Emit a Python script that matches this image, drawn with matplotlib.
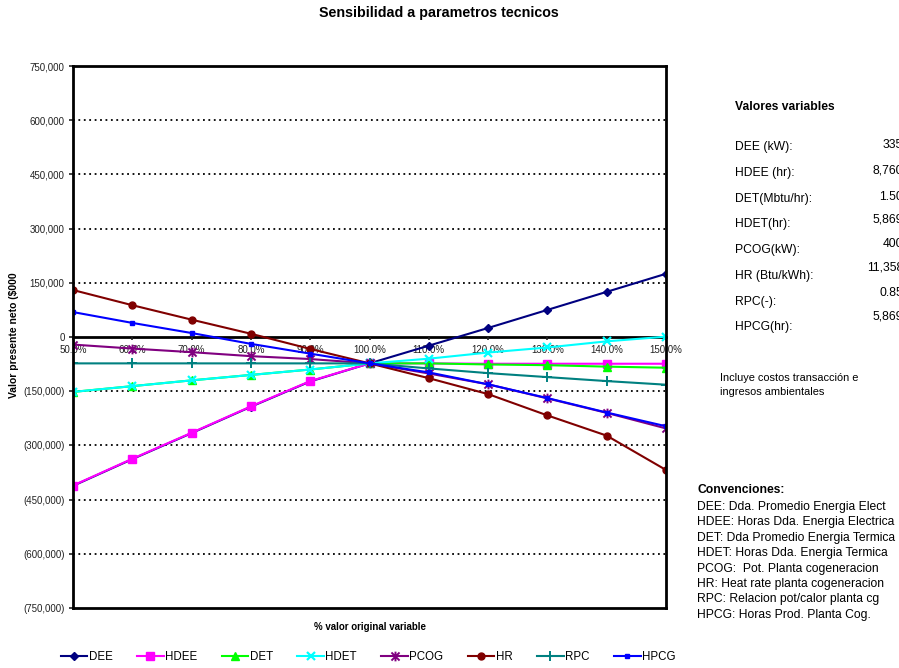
import matplotlib
matplotlib.use("Agg")
import matplotlib.pyplot as plt
import matplotlib.ticker as mtick
from matplotlib.path import Path

plt.rcParams["font.family"] = ["Liberation Sans", "DejaVu Sans"]

# *******************
# Data
# *******************
pct = [50, 60, 70, 80, 90, 100, 110, 120, 130, 140, 150]
pct_labels = ["%.1f%%" % p for p in pct]

dee = [-412000, -338000, -266000, -193000, -123000, -73000, -24000, 25000, 75000, 125000, 175000]
hdee = [-411000, -337000, -265000, -192000, -122000, -73000, -73000, -74000, -74000, -74000, -74000]
det = [-152000, -136000, -120000, -105000, -90000, -73000, -73000, -76000, -78000, -82000, -85000]
hdet = [-152000, -136000, -120000, -105000, -90000, -73000, -60000, -43000, -29000, -12000, 1000]
pcog = [-21000, -32000, -42000, -53000, -61000, -73000, -101000, -131000, -170000, -210000, -253000]
hr = [130000, 88000, 48000, 9000, -33000, -73000, -114000, -158000, -217000, -273000, -368000]
rpc = [-73000, -73000, -73000, -73000, -73000, -73000, -87000, -100000, -111000, -122000, -132000]
hpcg = [69000, 39000, 11000, -19000, -46000, -73000, -98000, -131000, -169000, -209000, -247000]

y_ticks = [-750000, -600000, -450000, -300000, -150000, 0, 150000, 300000, 450000, 600000, 750000]

var_names = ["DEE (kW):", "HDEE (hr):", "DET(Mbtu/hr):", "HDET(hr):",
             "PCOG(kW):", "HR (Btu/kWh):", "RPC(-):", "HPCG(hr):"]
var_values = ["335", "8,760", "1.50", "5,869", "400", "11,358", "0.85", "5,869"]

conventions = [
    "DEE: Dda. Promedio Energia Elect",
    "HDEE: Horas Dda. Energia Electrica",
    "DET: Dda Promedio Energia Termica",
    "HDET: Horas Dda. Energia Termica",
    "PCOG:  Pot. Planta cogeneracion",
    "HR: Heat rate planta cogeneracion",
    "RPC: Relacion pot/calor planta cg",
    "HPCG: Horas Prod. Planta Cog.",
]

# star marker: an x with a vertical bar
star = Path(
    [(-1, -1), (1, 1), (-1, 1), (1, -1), (0, -1.2), (0, 1.2)],
    [Path.MOVETO, Path.LINETO, Path.MOVETO, Path.LINETO, Path.MOVETO, Path.LINETO],
)

series = [
    ("DEE", dee, "#000080", dict(marker="D", ms=4.5)),
    ("HDEE", hdee, "#FF00FF", dict(marker="s", ms=6)),
    ("DET", det, "#00FF00", dict(marker="^", ms=6)),
    ("HDET", hdet, "#00FFFF", dict(marker="x", ms=6, mew=1.6)),
    ("PCOG", pcog, "#800080", dict(marker=star, ms=7, mew=1.4)),
    ("HR", hr, "#800000", dict(marker="o", ms=5)),
    ("RPC", rpc, "#008080", dict(marker="+", ms=7, mew=1.4)),
    ("HPCG", hpcg, "#0000FF", dict(marker="s", ms=3.5)),
]

PANEL_FS = 8.7


def paren_thousands(x, pos):
    """negative values in parentheses"""
    if x < 0:
        return "(%s)" % format(int(-x), ",")
    return format(int(x), ",")


W, H = 899, 668
fig = plt.figure(figsize=(W / 100, H / 100), dpi=100)
ax = fig.add_axes([73 / W, 1 - 608 / H, (666 - 73) / W, (608 - 66) / H])

xs = list(range(len(pct)))
for name, vals, color, mk in series:
    ax.plot(xs, vals, color=color, lw=1.5, label=name, mec=color, mfc=color, **mk)

ax.set_xlim(0, len(pct) - 1)
ax.set_ylim(-750000, 750000)
ax.set_yticks(y_ticks)
ax.yaxis.set_major_formatter(mtick.FuncFormatter(paren_thousands))
ax.set_xticks(xs)
ax.set_xticklabels(pct_labels)

for v in y_ticks[1:-1]:
    if v != 0:
        ax.axhline(v, color="black", lw=1.3, ls=(0, (1, 2)), zorder=0.5)

# zero line acts as category axis
ax.spines["bottom"].set_position(("data", 0))
ax.spines["bottom"].set_zorder(1)
ax.axhline(-750000, color="black", lw=2, clip_on=False)
for s in ["bottom", "top", "left", "right"]:
    ax.spines[s].set_linewidth(2)
ax.tick_params(axis="x", length=2.5, width=1.2, labelsize=7, pad=3, colors="#222222")
ax.tick_params(axis="y", length=3, width=1.2, labelsize=7, pad=3, colors="#222222")

fig.text(439 / W, 1 - 13 / H, "Sensibilidad a parametros tecnicos",
         ha="center", va="center", fontsize=10.3, fontweight="bold")
fig.text(14 / W, 1 - 335 / H, "Valor presente neto ($000", rotation=90,
         ha="center", va="center", fontsize=7.5, fontweight="bold")
fig.text(370 / W, 1 - 627 / H, "% valor original variable",
         ha="center", va="center", fontsize=7, fontweight="bold")

# right side panel
fig.text(735 / W, 1 - 107 / H, "Valores variables", ha="left", va="center",
         fontsize=PANEL_FS, fontweight="bold")
name_y = [147, 173, 199, 224, 250, 276, 302, 327]
value_y = [145, 171, 197, 220, 244, 268, 293, 316]
for nm, vl, yn, yv in zip(var_names, var_values, name_y, value_y):
    fig.text(735 / W, 1 - yn / H, nm, ha="left", va="center", fontsize=PANEL_FS)
    fig.text(903 / W, 1 - yv / H, vl, ha="right", va="center", fontsize=PANEL_FS)

fig.text(720 / W, 1 - 385 / H, "Incluye costos transacción e\ningresos ambientales",
         ha="left", va="center", fontsize=7.9, linespacing=1.4)

fig.text(697 / W, 1 - 490 / H, "Convenciones:", ha="left", va="center",
         fontsize=PANEL_FS, fontweight="bold")
for i, line in enumerate(conventions):
    fig.text(697 / W, 1 - (507 + i * 15.4) / H, line, ha="left", va="center",
             fontsize=PANEL_FS)

fig.legend(loc="center", bbox_to_anchor=(368 / W, 1 - 657 / H), ncol=8,
           frameon=False, fontsize=8.3, handlelength=2.3, handletextpad=0.1,
           columnspacing=2.15)

fig.savefig("out.png", dpi=100)
